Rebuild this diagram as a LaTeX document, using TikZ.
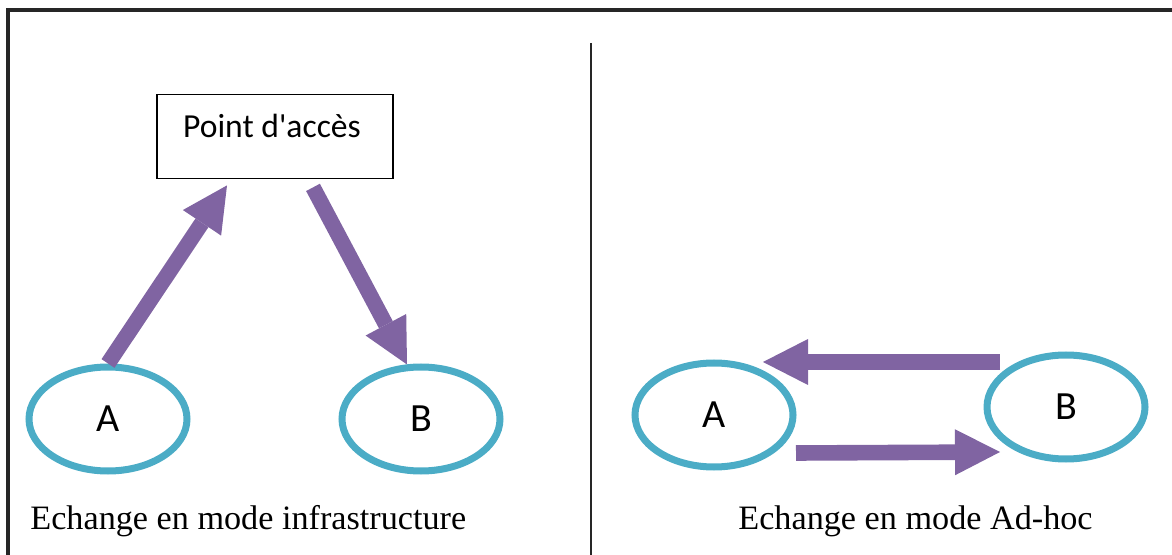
\documentclass[tikz,border=0pt]{standalone}
\usepackage{fontspec}
\setmainfont{Liberation Serif}
\newfontfamily\calibri{Carlito}
\usetikzlibrary{shapes.geometric,arrows.meta}
\definecolor{violetoff}{HTML}{8064A2}
\definecolor{bleuoff}{HTML}{4BACC6}
\tikzset{
  station/.style={ellipse,draw=bleuoff,line width=3.5pt,inner sep=0pt,
    minimum width=79pt,minimum height=52pt,font=\calibri\fontsize{20pt}{24pt}\selectfont},
  fleche/.style={draw=violetoff,line width=7.8pt,
    -{Triangle[length=22.5pt,width=23pt,line width=0pt]}},
  legende/.style={anchor=base west,inner sep=0pt,font=\fontsize{17.1pt}{21pt}\selectfont}
}
\begin{document}
\begin{tikzpicture}[x=0.5pt,y=-0.5pt]
    \useasboundingbox (0,0) rectangle (1172,555);
    % --- cadre et separation ---
    \draw[line width=1.6pt,black!85] (1172,10) -- (8,10) -- (8,555);
    \draw[line width=1.2pt,black!85] (591,43) -- (591,555);
    % --- (a) mode infrastructure ---
    \node[draw,line width=0.9pt,minimum width=118pt,minimum height=42pt,inner sep=0pt] (ap) at (275,136.5) {};
    \node[font=\calibri\fontsize{16.8pt}{20pt}\selectfont,anchor=base] (aptxt) at (272,138) {Point d'accès};
    \node[station] (iA) at (108,419) {A};
    \node[station] (iB) at (421,419) {B};
    \draw[fleche] (iA.north) -- ([shift={(-48,6)}]ap.south);
    \draw[fleche] ([shift={(38,8)}]ap.south) -- ([shift={(-14,1)}]iB.north);
    \node[legende] (linfra) at (30,529) {Echange en mode infrastructure};
    % --- (b) mode Ad-hoc ---
    \node[station] (dA) at (714,415) {A};
    \node[station] (dB) at (1066,407) {B};
    \draw[fleche] ([shift={(-66,-45)}]dB.center) -- ([shift={(49,-53)}]dA.center);
    \draw[fleche] ([shift={(82,38)}]dA.center) -- ([shift={(-66,45)}]dB.center);
    \node[legende] (ladhoc) at (738,529) {Echange en mode Ad-hoc};
\end{tikzpicture}
\end{document}
